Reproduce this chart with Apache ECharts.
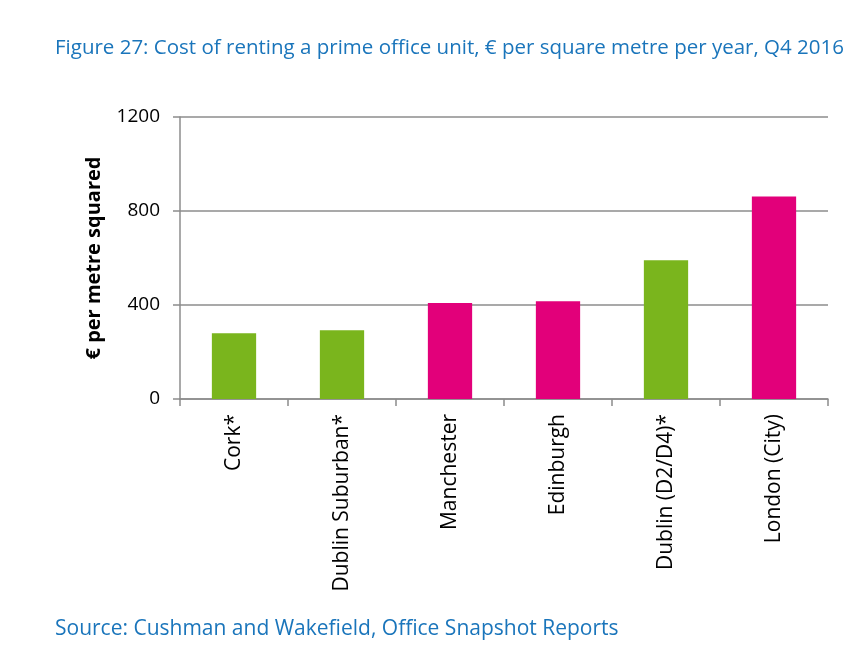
<!DOCTYPE html>
<html>
<head>
<meta charset="utf-8">
<script src="https://cdn.jsdelivr.net/npm/echarts@6/dist/echarts.min.js"></script>
<style>
  html, body { margin: 0; padding: 0; background: #fff; }
  #chart { width: 843px; height: 666px; }
</style>
</head>
<body>
<div id="chart"></div>
<script>
var categories = ['Cork*', 'Dublin Suburban*', 'Manchester', 'Edinburgh', 'Dublin (D2/D4)*', 'London (City)'];
var rents = [280, 293, 409, 416, 590, 862];
var country = ['IE', 'IE', 'UK', 'UK', 'IE', 'UK'];
var yTicks = [0, 400, 800, 1200];

var countryColor = { IE: '#7ab51d', UK: '#e2007a' };

var myChart = echarts.init(document.getElementById('chart'));
var option = {
  animation: false,
  textStyle: { fontFamily: 'Open Sans' },
  title: [{
    text: 'Figure 27: Cost of renting a prime office unit, \u20ac per square metre per year, Q4 2016)',
    left: 50,
    top: 33,
    textStyle: { color: '#1a75bb', fontSize: 20.5, fontWeight: 'normal', fontFamily: 'Open Sans' }
  }, {
    text: 'Source: Cushman and Wakefield, Office Snapshot Reports',
    left: 50,
    top: 614,
    textStyle: { color: '#1a75bb', fontSize: 21, fontWeight: 'normal', fontFamily: 'Open Sans' }
  }],
  grid: { left: 180, right: 15, top: 117, bottom: 267 },
  xAxis: {
    type: 'category',
    data: categories,
    axisLine: { lineStyle: { color: '#8c8c8c', width: 1.5 } },
    axisTick: { show: true, length: 7, alignWithLabel: false, lineStyle: { color: '#8c8c8c', width: 1.5 } },
    axisLabel: { rotate: 90, margin: 15, color: '#000', fontSize: 21 }
  },
  yAxis: {
    type: 'value',
    min: 0,
    max: 1200,
    interval: 400,
    name: '\u20ac per metre squared',
    nameLocation: 'middle',
    nameGap: 76,
    nameTextStyle: { color: '#000', fontSize: 20, fontWeight: 'bold' },
    axisLine: { show: true, lineStyle: { color: '#8c8c8c', width: 1.5 } },
    axisTick: { show: true, length: 7, lineStyle: { color: '#8c8c8c', width: 1.5 } },
    axisLabel: {
      margin: 20, color: '#000', fontSize: 19,
      formatter: function (v) { return yTicks.indexOf(v) >= 0 ? String(v) : ''; }
    },
    splitLine: { lineStyle: { color: '#8c8c8c', width: 1.5 } }
  },
  series: [{
    type: 'bar',
    barWidth: '41%',
    data: rents.map(function (v, i) {
      return { value: v, itemStyle: { color: countryColor[country[i]] } };
    })
  }]
};
myChart.setOption(option, true);
window.addEventListener('resize', function () {
  myChart.resize();
});
</script>
</body>
</html>
